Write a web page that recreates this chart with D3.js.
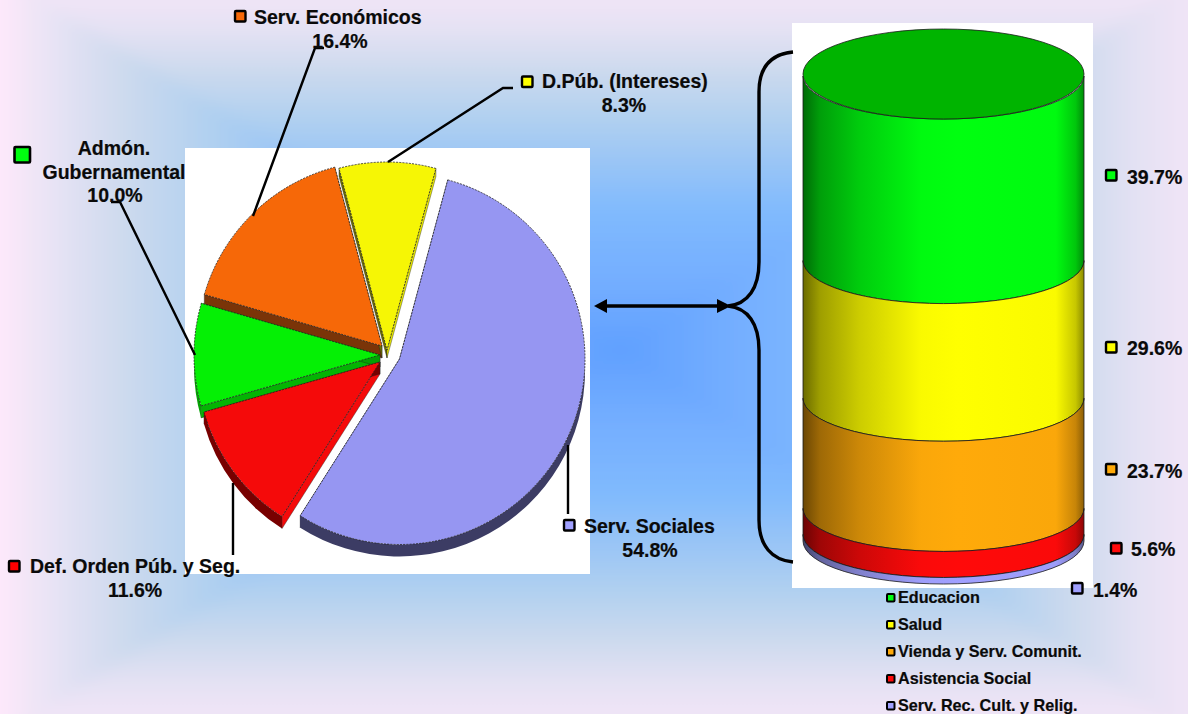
<!DOCTYPE html>
<html>
<head>
<meta charset="utf-8">
<script src="https://cdn.jsdelivr.net/npm/d3@7"></script>
<style>
html, body { margin: 0; padding: 0; background: #fff; overflow: hidden; }
svg { display: block; }
text { font-family: "Liberation Sans", Arial, sans-serif; font-weight: bold; fill: #0a0a0a; stroke: #0a0a0a; stroke-width: 0.2px; }
</style>
</head>
<body>
<svg id="chart" width="1188" height="714"></svg>
<script>
// pie, clockwise from the yellow slice
var pieNames = ["D.Púb. (Intereses)", "Serv. Sociales", "Def. Orden Púb. y Seg.", "Admón. Gubernamental", "Serv. Económicos"];
var pieLabels = ["8.3%", "54.8%", "11.6%", "10.0%", "16.4%"];
// the green wedge is drawn smaller than its printed 10.0%, about 8.9
var pieShares = [8.3, 54.8, 11.6, 8.9, 16.4];

// stacked cylinder, top to bottom
var cylNames = ["Educacion", "Salud", "Vienda y Serv. Comunit.", "Asistencia Social", "Serv. Rec. Cult. y Relig."];
var cylValues = [39.7, 29.6, 23.7, 5.6, 1.4];

var W = 1188, H = 714;
var svg = d3.select("#chart");
var defs = svg.append("defs");

/* ---- background: rectangular gradient going out from a centre point ---- */
var bgInner = [[0.2, "#cddaee"], [0.34, "#b0d0f0"], [0.45, "#9cc6f5"], [0.6, "#80bafd"], [0.8, "#74aeff"], [1, "#60a0ff"]];
var bgEdge = [[0, "#f0e4f6"], [0.1, "#e2e1f3"]].concat(bgInner);
var bgEdgeLeft = [[0, "#fee8fb"], [0.04, "#f3e6f7"], [0.1, "#e4e2f4"]].concat(bgInner);
var cx = 620, cy = 350, m = 60;
var bgSides = [
    {id: "bgL", x1: 0, y1: 0, x2: cx, y2: 0, pts: [[-m, -m], [-m, H + m], [cx, cy]], stops: bgEdgeLeft},
    {id: "bgR", x1: W, y1: 0, x2: cx, y2: 0, pts: [[W + m, -m], [W + m, H + m], [cx, cy]], stops: bgEdge},
    {id: "bgT", x1: 0, y1: 0, x2: 0, y2: cy, pts: [[-m, -m], [W + m, -m], [cx, cy]], stops: bgEdge},
    {id: "bgB", x1: 0, y1: H, x2: 0, y2: cy, pts: [[-m, H + m], [W + m, H + m], [cx, cy]], stops: bgEdge}
];
// soften the creases where the four sides meet
defs.append("filter").attr("id", "soft").attr("filterUnits", "userSpaceOnUse")
    .attr("x", -m).attr("y", -m).attr("width", W + 2 * m).attr("height", H + 2 * m)
    .append("feGaussianBlur").attr("stdDeviation", 8);
var bgG = svg.append("g").attr("filter", "url(#soft)");
bgSides.forEach(function (s) {
    var g = defs.append("linearGradient").attr("id", s.id).attr("gradientUnits", "userSpaceOnUse")
        .attr("x1", s.x1).attr("y1", s.y1).attr("x2", s.x2).attr("y2", s.y2);
    s.stops.forEach(function (st) {
        g.append("stop").attr("offset", st[0]).attr("stop-color", st[1]);
    });
    bgG.append("polygon").attr("points", s.pts.join(" ")).attr("fill", "url(#" + s.id + ")")
        .attr("stroke", "url(#" + s.id + ")").attr("stroke-width", 1);
});

// white boxes behind the two pictures
svg.append("rect").attr("x", 185).attr("y", 148).attr("width", 405).attr("height", 426).attr("fill", "#fff");
svg.append("rect").attr("x", 792).attr("y", 23).attr("width", 301).attr("height", 565).attr("fill", "#fff");

/* ---- pie ---- */
var pieStyle = [
    {top: "#f6f605", outer: "#8a8a00", s0: "#6e6e00", s1: "#e8e800", at: [387, 350], r: 188, depth: 8},
    {top: "#9696f2", outer: "#3c3c64", s0: "#3c3c64", s1: "#3c3c64", at: [399.5, 359], r: 185.5, depth: 12},
    {top: "#f50a0a", outer: "#780000", s0: "#f50a0a", s1: "#780000", at: [380, 362], r: 183, depth: 12},
    {top: "#05f005", outer: "#04a004", s0: "#04b404", s1: "#04a004", at: [380, 355], r: 186, depth: 12},
    {top: "#f66808", outer: "#7a3408", s0: "#7a3408", s1: "#6e6e00", at: [382, 346], r: 185, depth: 12}
];
var startA = -14.8 * Math.PI / 180;
var pieArcs = d3.pie().sort(null).startAngle(startA).endAngle(startA + 2 * Math.PI)(pieShares);
var arc = d3.arc().innerRadius(0);

// drawing order: back slices first so that the ones in front cover their walls
var pieOrder = [4, 0, 3, 2, 1];

function edgeWall(st, a) {
    var x = st.r * Math.sin(a), y = -st.r * Math.cos(a);
    var p = d3.path();
    p.moveTo(0, 0);
    p.lineTo(x, y);
    p.lineTo(x, y + st.depth);
    p.lineTo(0, st.depth);
    p.closePath();
    return p.toString();
}

function rimWall(st, a0, a1) {
    // only the part of the rim that faces the viewer, 90 to 270 degrees
    var lo = Math.max(a0, Math.PI / 2), hi = Math.min(a1, 3 * Math.PI / 2);
    if (hi <= lo) return null;
    var p = d3.path();
    p.arc(0, 0, st.r, lo - Math.PI / 2, hi - Math.PI / 2);
    p.arc(0, st.depth, st.r, hi - Math.PI / 2, lo - Math.PI / 2, true);
    p.closePath();
    return p.toString();
}

var pieG = svg.append("g");
pieOrder.forEach(function (i) {
    var d = pieArcs[i], st = pieStyle[i];
    var g = pieG.append("g").attr("transform", "translate(" + st.at[0] + "," + st.at[1] + ")");
    g.append("path").attr("d", edgeWall(st, d.startAngle)).attr("fill", st.s0).attr("stroke", "#222").attr("stroke-width", 0.4);
    g.append("path").attr("d", edgeWall(st, d.endAngle)).attr("fill", st.s1).attr("stroke", "#222").attr("stroke-width", 0.4);
    var rim = rimWall(st, d.startAngle, d.endAngle);
    if (rim) g.append("path").attr("d", rim).attr("fill", st.outer);
    g.append("path").attr("d", arc.outerRadius(st.r)(d)).attr("fill", st.top)
        .attr("stroke", "#222").attr("stroke-width", 0.8).attr("stroke-dasharray", "2 1.2");
});

/* ---- cylinder ---- */
var cylColors = ["#00ff10", "#ffff00", "#ffaa0a", "#ff0a0a", "#a0a0ff"];
var cylX0 = 803, cylX1 = 1084, cylRy = 43;
var cylY = d3.scaleLinear().domain([0, 100]).range([119, 584]);
var cylShade = [[0, 0.42], [0.06, 0.62], [0.2, 0.8], [0.42, 0.98], [0.55, 1], [0.9, 0.98], [0.97, 0.78], [1, 0.55]];

cylColors.forEach(function (c, i) {
    var g = defs.append("linearGradient").attr("id", "cyl" + i);
    cylShade.forEach(function (s) {
        var col = d3.rgb(c);
        g.append("stop").attr("offset", s[0])
            .attr("stop-color", d3.rgb(col.r * s[1], col.g * s[1], col.b * s[1]).formatHex());
    });
});

var cum = [];
cylValues.reduce(function (sum, v) { cum.push([sum, sum + v]); return sum + v; }, 0);
var rx = (cylX1 - cylX0) / 2;

svg.append("g").selectAll("path")
    .data(cum)
    .join("path")
    .attr("d", function (d) {
        var y0 = cylY(d[0]) - cylRy, y1 = cylY(d[1]) - cylRy;
        return "M" + cylX0 + "," + y0 + "A" + rx + "," + cylRy + " 0 0 0 " + cylX1 + "," + y0 +
            "L" + cylX1 + "," + y1 + "A" + rx + "," + cylRy + " 0 0 1 " + cylX0 + "," + y1 + "Z";
    })
    .attr("fill", function (d, i) { return "url(#cyl" + i + ")"; })
    .attr("stroke", "#1a1a1a").attr("stroke-width", 0.8);

svg.append("ellipse").attr("cx", (cylX0 + cylX1) / 2).attr("cy", 74).attr("rx", rx).attr("ry", 45)
    .attr("fill", "#00b400").attr("stroke", "#1a1a1a").attr("stroke-width", 0.8);

/* ---- leader lines, bracket, arrow ---- */
var leaders = [
    "M253,216L315,48H324",
    "M388,162L503,88H513",
    "M195,355L120,202H111",
    "M233,483V555",
    "M568,445V514"
];
svg.append("g").selectAll("path").data(leaders).join("path")
    .attr("d", function (d) { return d; })
    .attr("fill", "none").attr("stroke", "#000").attr("stroke-width", 2.4);

svg.append("path")
    .attr("d", "M793,52C772,54 759,66 759,92V262C759,288 748,304 728,306C748,308 759,324 759,350V520C759,546 772,560 793,562")
    .attr("fill", "none").attr("stroke", "#000").attr("stroke-width", 3.4);
svg.append("path").attr("d", "M600,306H724").attr("stroke", "#000").attr("stroke-width", 3.6);
svg.append("path").attr("d", "M594,306L607,299V313Z").attr("fill", "#000");
svg.append("path").attr("d", "M731,306L717,299V313Z").attr("fill", "#000");

/* ---- labels ---- */
function marker(x, y, s, fill, sw) {
    svg.append("rect").attr("x", x).attr("y", y).attr("width", s).attr("height", s).attr("rx", 1)
        .attr("fill", fill).attr("stroke", "#000").attr("stroke-width", sw);
}
function label(str, x, y, size, anchor) {
    svg.append("text").attr("x", x).attr("y", y).attr("font-size", size)
        .attr("text-anchor", anchor || "start").text(str);
}

var fs = 19.5;
marker(235, 11, 10.5, pieStyle[4].top, 2.4);
label(pieNames[4], 254, 24, fs);
label(pieLabels[4], 340, 48, fs, "middle");

marker(522, 76.5, 10.5, "#ffff00", 2.4);
label(pieNames[0], 542, 88, fs);
label(pieLabels[0], 624, 112, fs, "middle");

marker(14.5, 147, 15.5, "#00ff10", 2.6);
label("Admón.", 114, 155, fs, "middle");
label("Gubernamental", 114, 179, fs, "middle");
label(pieLabels[3], 115, 202, fs, "middle");

marker(9, 561, 10.5, "#ff0000", 2.4);
label(pieNames[2], 30, 573, fs);
label(pieLabels[2], 135, 597, fs, "middle");

marker(564, 520, 10.5, "#a0a0ff", 2.4);
label(pieNames[1], 584, 533, fs);
label(pieLabels[1], 650, 557, fs, "middle");

// values beside the cylinder
var cylLabelAt = [[1106, 170, 1127, 184], [1106, 342, 1127, 355], [1106, 464, 1127, 478], [1111, 543, 1131, 556], [1072, 583, 1093, 597]];
cylValues.forEach(function (v, i) {
    var a = cylLabelAt[i];
    marker(a[0], a[1], 10.5, cylColors[i], 2.4);
    label(v.toFixed(1) + "%", a[2], a[3], fs);
});

// legend under the cylinder
var legendY = d3.scalePoint().domain(cylNames).range([603, 711]);
cylNames.forEach(function (n, i) {
    var y = legendY(n);
    marker(887, y - 9, 7.5, cylColors[i], 2);
    label(n, 898, y, 16.2);
});
</script>
</body>
</html>
